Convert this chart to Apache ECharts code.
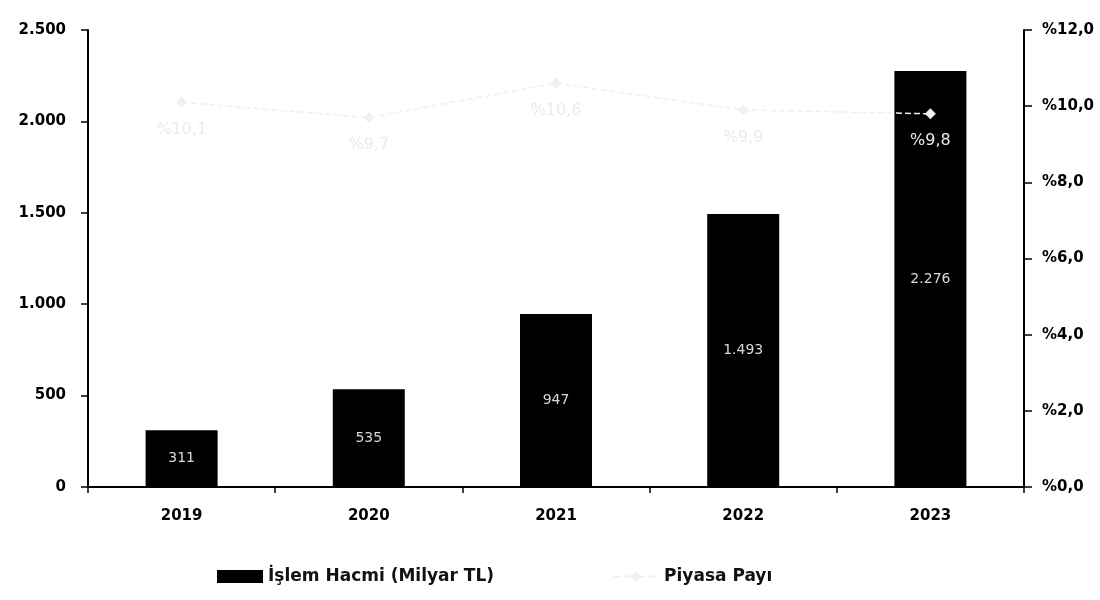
<!DOCTYPE html>
<html>
<head>
<meta charset="utf-8">
<script src="https://cdn.jsdelivr.net/npm/echarts@6/dist/echarts.min.js"></script>
<style>
  html, body { margin: 0; padding: 0; background: #fff; }
  #chart { width: 1100px; height: 600px; }
</style>
</head>
<body>
<div id="chart"></div>
<script>
// data
const years = ['2019', '2020', '2021', '2022', '2023']
const volume = [311, 535, 947, 1493, 2276]      // İşlem Hacmi (Milyar TL)
const share = [10.1, 9.7, 10.6, 9.9, 9.8]        // Piyasa Payı (%)

const FONT = 'DejaVu Sans'

// 2276 -> 2.276
function dots(v) {
  return String(v).replace(/\B(?=(\d{3})+(?!\d))/g, '.')
}

function pct(v) {
  return '%' + v.toFixed(1).replace('.', ',')
}

const chart = echarts.init(document.getElementById('chart'))

const option = {
  backgroundColor: '#fff',
  animation: false,
  grid: {
    left: 88,
    right: 76,
    top: 30,
    bottom: 113
  },
  legend: {
    bottom: 10,
    left: 212,
    itemGap: 118,
    itemWidth: 46,
    itemHeight: 13,
    textStyle: {
      fontFamily: FONT,
      fontWeight: 'bold',
      fontSize: 17,
      color: '#111'
    },
    data: [
      {name: 'İşlem Hacmi (Milyar TL)', icon: 'rect'},
      {name: 'Piyasa Payı'}
    ]
  },
  xAxis: {
    type: 'category',
    data: years,
    axisLine: {lineStyle: {color: '#000', width: 2}},
    axisTick: {show: true, length: 6, lineStyle: {color: '#000', width: 1.5}},
    axisLabel: {
      margin: 22,
      fontFamily: FONT,
      fontWeight: 'bold',
      fontSize: 15,
      color: '#000'
    }
  },
  yAxis: [
    {
      type: 'value',
      min: 0,
      max: 2500,
      interval: 500,
      splitLine: {show: false},
      axisLine: {show: true, lineStyle: {color: '#000', width: 2}},
      axisTick: {show: true, length: 7, lineStyle: {color: '#000', width: 1.5}},
      axisLabel: {
        margin: 22,
        fontFamily: FONT,
        fontWeight: 'bold',
        fontSize: 15,
        color: '#000',
        formatter: v => dots(v)
      }
    },
    {
      type: 'value',
      min: 0,
      max: 12,
      interval: 2,
      position: 'right',
      splitLine: {show: false},
      axisLine: {show: true, lineStyle: {color: '#000', width: 2}},
      axisTick: {show: true, length: 8, lineStyle: {color: '#000', width: 1.5}},
      axisLabel: {
        margin: 18,
        fontFamily: FONT,
        fontWeight: 'bold',
        fontSize: 15,
        color: '#000',
        formatter: v => pct(v)
      }
    }
  ],
  series: [
    {
      name: 'İşlem Hacmi (Milyar TL)',
      type: 'bar',
      barWidth: 72,
      itemStyle: {color: '#000'},
      label: {
        show: true,
        position: 'inside',
        fontFamily: FONT,
        fontSize: 14,
        color: '#d8d8d8',
        formatter: p => dots(p.value)
      },
      data: volume
    },
    {
      name: 'Piyasa Payı',
      type: 'line',
      yAxisIndex: 1,
      symbol: 'diamond',
      symbolSize: 11,
      itemStyle: {color: '#f0f0f0'},
      lineStyle: {color: '#f0f0f0', width: 1.5, type: 'dashed'},
      label: {
        show: true,
        position: 'bottom',
        distance: 14,
        fontFamily: FONT,
        fontSize: 16,
        color: '#ebebeb',
        formatter: p => pct(p.value)
      },
      z: 5,
      data: share
    }
  ]
}

chart.setOption(option)
</script>
</body>
</html>
